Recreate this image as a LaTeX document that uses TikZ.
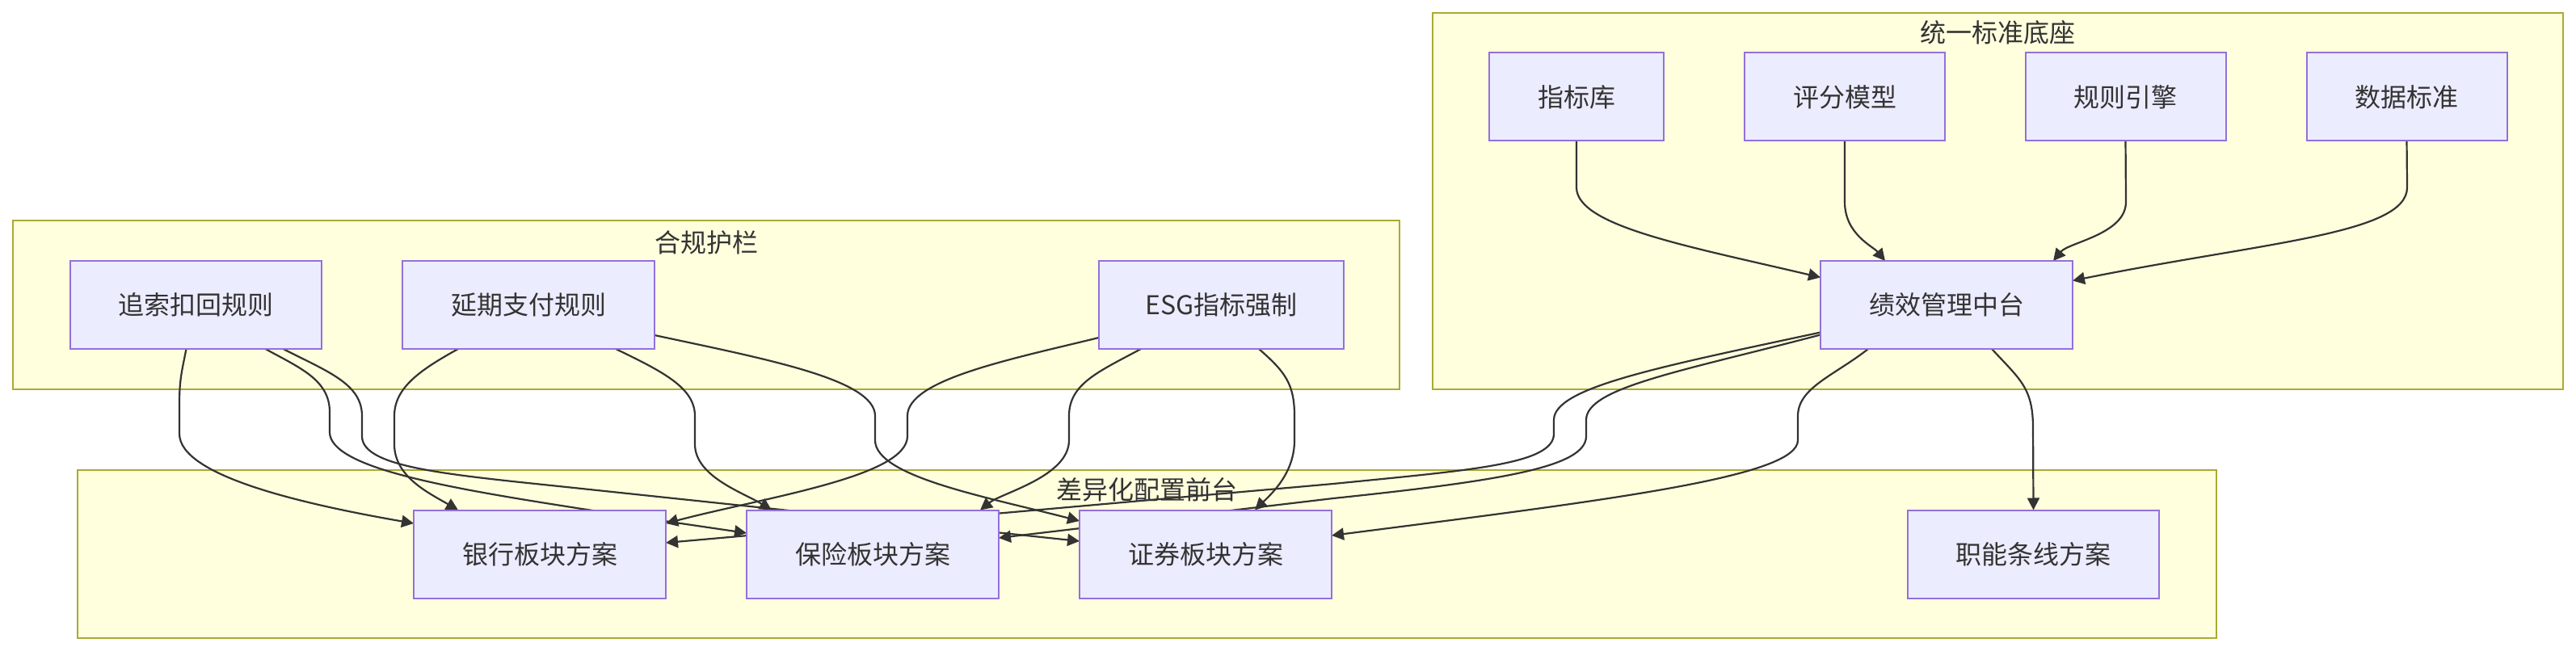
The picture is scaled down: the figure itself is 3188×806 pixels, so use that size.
\documentclass[tikz,border=0pt]{standalone}
\usepackage{fontspec}
\setmainfont{Noto Sans CJK SC}
\usetikzlibrary{arrows.meta, positioning}
\definecolor{grpfill}{HTML}{FFFFDE}
\definecolor{grpline}{HTML}{AAAA33}
\definecolor{nodefill}{HTML}{ECECFF}
\definecolor{nodeline}{HTML}{9370DB}
\definecolor{inkgray}{HTML}{333333}
\pgfdeclarelayer{bg}
\pgfdeclarelayer{links}
\pgfsetlayers{bg,links,main}
\tikzset{
    % Subgraph frames
    grpbox/.style={rectangle, draw=grpline, fill=grpfill, line width=1pt,
                inner sep=0pt, outer sep=0pt},
    grptitle/.style={font=\fontsize{16}{19}\selectfont, text=inkgray, inner sep=0pt},
    % Flow nodes
    flownode/.style={rectangle, draw=nodeline, fill=nodefill, line width=1pt,
                minimum width=#1, minimum height=54.5pt, inner sep=0pt, outer sep=0pt,
                align=center, font=\fontsize{16}{19}\selectfont, text=inkgray},
    flownode/.default=156pt,
    % Links
    flowarrow/.style={-{Triangle[length=7.5pt, width=7.5pt]}, line width=1.1pt, draw=inkgray},
}

\begin{document}
\begin{tikzpicture}[x=0.5pt, y=-0.5pt]
\useasboundingbox (0,0) rectangle (3188,806);

\begin{pgfonlayer}{bg}
\node[grpbox, minimum width=699.5pt, minimum height=233pt] (base) at (2472.5,249) {};
\node[grptitle] (baset) at (2472.5,40) {统一标准底座};
\node[grpbox, minimum width=858pt, minimum height=104.5pt] (guard) at (874,377.5) {};
\node[grptitle] (guardt) at (874,300) {合规护栏};
\node[grpbox, minimum width=1323.5pt, minimum height=104pt] (front) at (1419.5,686) {};
\node[grptitle] (frontt) at (1419.5,606) {差异化配置前台};
\end{pgfonlayer}

\node[flownode=108pt] (lib)   at (1951,120)   {指标库};
\node[flownode=124pt] (score) at (2283,120)   {评分模型};
\node[flownode=124pt] (rule)  at (2630.5,120) {规则引擎};
\node[flownode=124pt] (data)  at (2978.5,120) {数据标准};
\node[flownode]       (hub)   at (2409,377.5) {绩效管理中台};

\node[flownode=155.5pt] (claw)  at (242.5,377.5)  {追索扣回规则};
\node[flownode]         (defer) at (654,377.5)    {延期支付规则};
\node[flownode=151.5pt] (esg)   at (1511.5,377.5) {ESG指标强制};

\node[flownode]         (bank) at (668,686)    {银行板块方案};
\node[flownode]         (ins)  at (1080,686)   {保险板块方案};
\node[flownode]         (sec)  at (1492,686)   {证券板块方案};
\node[flownode=155.5pt] (func) at (2516.5,686) {职能条线方案};

\begin{pgfonlayer}{links}
% base -> hub
\draw[flowarrow] (lib.south) -- (1951,232) .. controls (1951,280) and (2090,305) .. ([yshift=17pt]hub.west);
\draw[flowarrow] (score.south) -- (2283,250) .. controls (2283,290) and (2318,305) .. ([xshift=-38pt]hub.north);
\draw[flowarrow] (rule.south) -- (2631,250) .. controls (2631,290) and (2560,300) .. ([xshift=66pt]hub.north);
\draw[flowarrow] (data.south) -- (2979,232) .. controls (2979,290) and (2800,300) .. ([yshift=15pt]hub.east);
% guard -> front
\draw[flowarrow] ([xshift=-6pt]claw.south) .. controls (225,460) and (222,470) .. (222,500) -- (222,537)
    .. controls (222,590) and (380,625) .. ([yshift=19pt]bank.west);
\draw[flowarrow] ([xshift=43pt]claw.south) .. controls (370,455) and (408,470) .. (408,510) -- (408,535)
    .. controls (408,580) and (560,605) .. (720,630) -- ([yshift=13pt]ins.west);
\draw[flowarrow] ([xshift=54pt]claw.south) .. controls (405,460) and (448,475) .. (448,515) -- (448,540)
    .. controls (448,580) and (560,588) .. (720,605) -- ([yshift=8pt]sec.west);
\draw[flowarrow] ([xshift=-43.5pt]defer.south) .. controls (520,458) and (488,480) .. (488,515) -- (488,550)
    .. controls (488,590) and (530,610) .. ([xshift=-50.5pt]bank.north);
\draw[flowarrow] ([xshift=54pt]defer.south) .. controls (820,460) and (860,480) .. (860,515) -- (860,550)
    .. controls (860,590) and (920,610) .. ([xshift=-62.5pt]ins.north);
\draw[flowarrow] ([yshift=-18.75pt]defer.east) .. controls (950,445) and (1083,470) .. (1083,515) -- (1083,545)
    .. controls (1083,590) and (1220,615) .. ([yshift=20.5pt]sec.west);
\draw[flowarrow] ([yshift=-20.25pt]esg.west) .. controls (1250,445) and (1123,470) .. (1123,515) -- (1123,540)
    .. controls (1123,590) and (950,615) .. ([yshift=19pt]bank.east);
\draw[flowarrow] ([xshift=-49.75pt]esg.south) .. controls (1360,460) and (1323,475) .. (1323,515) -- (1323,545)
    .. controls (1323,590) and (1240,610) .. ([xshift=66.5pt]ins.north);
\draw[flowarrow] ([xshift=23.25pt]esg.south) .. controls (1590,460) and (1602,475) .. (1602,515) -- (1602,545)
    .. controls (1602,585) and (1575,610) .. ([xshift=30.5pt]sec.north);
% hub -> front
\draw[flowarrow] ([yshift=-17pt]hub.west) .. controls (2050,455) and (1923,480) .. (1923,520) -- (1923,537)
    .. controls (1923,575) and (1820,582) .. (1650,599) -- ([yshift=7pt]bank.east);
\draw[flowarrow] ([yshift=-18.5pt]hub.west) .. controls (2080,460) and (1963,480) .. (1963,520) -- (1963,540)
    .. controls (1963,578) and (1860,595) .. (1650,617) -- ([yshift=10pt]ins.east);
\draw[flowarrow] ([xshift=-48.5pt]hub.south) .. controls (2270,465) and (2225,480) .. (2225,515) -- (2225,545)
    .. controls (2225,590) and (2000,618) .. ([yshift=11.5pt]sec.east);
\draw[flowarrow] ([xshift=28pt]hub.south) .. controls (2500,470) and (2516,480) .. (2516,530) -- (func.north);
\end{pgfonlayer}
\end{tikzpicture}
\end{document}
